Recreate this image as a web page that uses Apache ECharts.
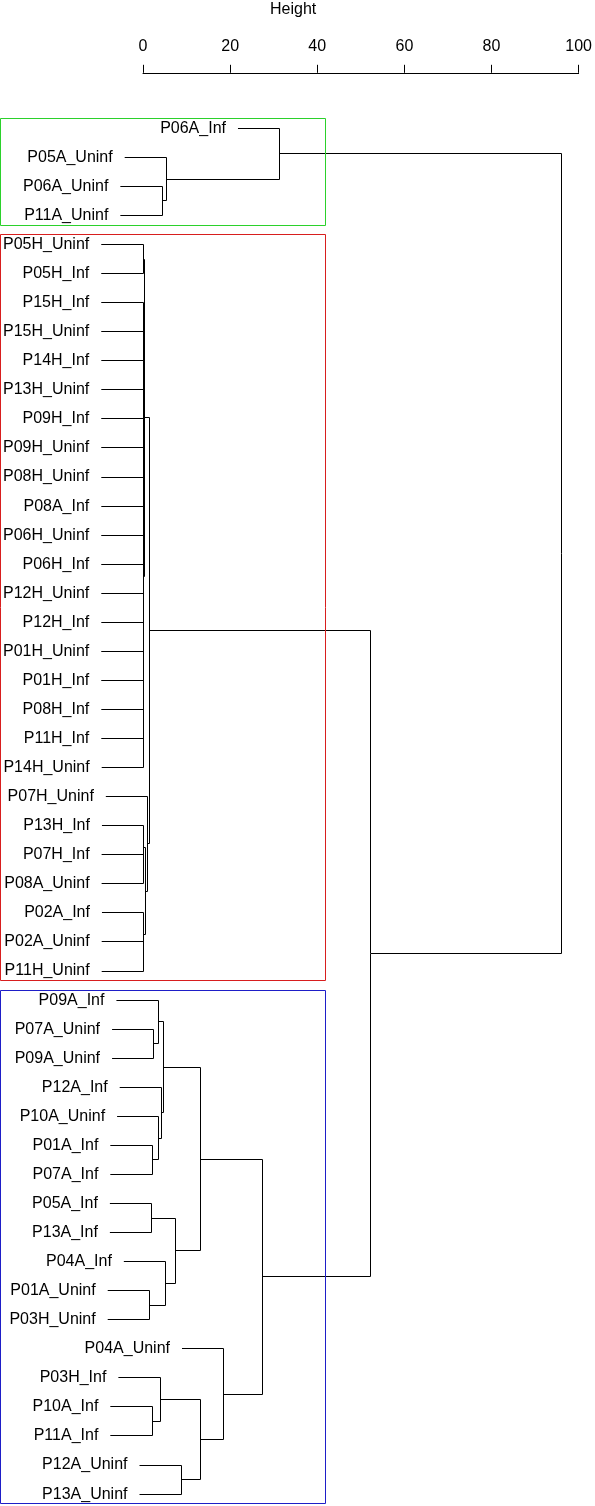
<!DOCTYPE html>
<html>
<head>
<meta charset="utf-8">
<title>Dendrogram</title>
<script src="https://cdn.jsdelivr.net/npm/echarts@6/dist/echarts.min.js"></script>
<style>
  html, body { margin: 0; padding: 0; background: #fff; }
  #chart { width: 595px; height: 1506px; }
</style>
</head>
<body>
<div id="chart"></div>
<script>
// leaf labels, top to bottom
const labels = [
  'P06A_Inf', 'P05A_Uninf', 'P06A_Uninf', 'P11A_Uninf',
  'P05H_Uninf', 'P05H_Inf', 'P15H_Inf', 'P15H_Uninf', 'P14H_Inf', 'P13H_Uninf',
  'P09H_Inf', 'P09H_Uninf', 'P08H_Uninf', 'P08A_Inf', 'P06H_Uninf', 'P06H_Inf',
  'P12H_Uninf', 'P12H_Inf', 'P01H_Uninf', 'P01H_Inf', 'P08H_Inf', 'P11H_Inf',
  'P14H_Uninf', 'P07H_Uninf', 'P13H_Inf', 'P07H_Inf', 'P08A_Uninf', 'P02A_Inf',
  'P02A_Uninf', 'P11H_Uninf',
  'P09A_Inf', 'P07A_Uninf', 'P09A_Uninf', 'P12A_Inf', 'P10A_Uninf', 'P01A_Inf',
  'P07A_Inf', 'P05A_Inf', 'P13A_Inf', 'P04A_Inf', 'P01A_Uninf', 'P03H_Uninf',
  'P04A_Uninf', 'P03H_Inf', 'P10A_Inf', 'P11A_Inf', 'P12A_Uninf', 'P13A_Uninf'
]

// hclust style merges: negative = leaf number, positive = earlier row, then height
const merges = [
  [-5, -6, 0.02], [-7, -8, 0.02], [-9, -10, 0.03], [-11, -12, 0.02],
  [-13, -14, 0.03], [-15, -16, 0.02], [-17, -18, 0.03], [-19, -20, 0.02],
  [-21, -22, 0.03], [4, 5, 0.05], [8, 9, 0.05], [7, 11, 0.06],
  [6, 12, 0.07], [10, 13, 0.08], [3, 14, 0.09], [2, 15, 0.10],
  [16, -23, 0.12], [1, 17, 0.25],
  [-26, -27, 0.10], [-25, 19, 0.18], [-29, -30, 0.12], [-28, 21, 0.18],
  [20, 22, 0.62], [-24, 23, 1.07], [18, 24, 1.45],
  [-3, -4, 4.4], [-2, 26, 5.4], [-1, 27, 31.4],
  [-32, -33, 2.5], [-31, 29, 3.5], [-36, -37, 2.1], [-35, 31, 3.65],
  [-34, 32, 4.25], [30, 33, 4.6], [-38, -39, 2.0], [-41, -42, 1.5],
  [-40, 36, 5.2], [35, 37, 7.45], [34, 38, 13.2], [-45, -46, 2.1],
  [-44, 40, 3.95], [-47, -48, 8.8], [41, 42, 13.25], [-43, 43, 18.55],
  [39, 44, 27.45], [25, 45, 52.3], [28, 46, 96.0]
]

const heightTicks = [0, 20, 40, 60, 80, 100]

// rect.hclust(k = 3)
const clusterFirst = [1, 5, 31]
const clusterLast = [4, 30, 48]
const clusterColors = ['#2bd12b', '#d81e1e', '#1e1ec8']
const cutHeight = 41.85

const font = '"Liberation Sans", Arial, sans-serif'

// node positions (leaf order on the y axis, merge height on the x axis)
const nodeY = []
function posOf(ref) {
  return ref < 0 ? -ref : nodeY[ref - 1]
}
function startOf(ref, h) {
  return ref < 0 ? h - hang : merges[ref - 1][2]
}
merges.forEach(function(m, i) {
  nodeY[i] = (posOf(m[0]) + posOf(m[1])) / 2
})
const hang = 0.1 * Math.max.apply(null, merges.map(function(m) { return m[2] }))

const bracketData = merges.map(function(m) {
  return [m[2], posOf(m[0]), posOf(m[1]), startOf(m[0], m[2]), startOf(m[1], m[2])]
})
const boxData = clusterFirst.map(function(f, i) {
  return [f - 0.34, clusterLast[i] + 0.33, cutHeight]
})

function px(v) {
  return Math.round(v - 0.5) + 0.5
}

function renderBracket(params, api) {
  const m = merges[params.dataIndex]
  const h = api.value(0)
  const a = api.coord([api.value(3), api.value(1)])
  const b = api.coord([api.value(4), api.value(2)])
  const x = px(api.coord([h, 0])[0])
  const ya = px(a[1])
  const yb = px(b[1])
  const stroke = { stroke: '#000', lineWidth: 1 }
  const children = [
    { type: 'line', shape: { x1: a[0], y1: ya, x2: x, y2: ya }, style: stroke },
    { type: 'line', shape: { x1: b[0], y1: yb, x2: x, y2: yb }, style: stroke },
    { type: 'line', shape: { x1: x, y1: ya, x2: x, y2: yb }, style: stroke }
  ]
  ;[[m[0], a], [m[1], b]].forEach(function(c) {
    if (c[0] < 0) {
      children.push({
        type: 'text',
        style: {
          text: labels[-c[0] - 1],
          x: c[1][0] - 12,
          y: c[1][1],
          align: 'right',
          verticalAlign: 'middle',
          fontSize: 16,
          fontFamily: font,
          fill: '#000'
        }
      })
    }
  })
  return { type: 'group', children: children }
}

function renderBox(params, api) {
  const top = api.coord([api.value(2), api.value(0)])
  const bottom = api.coord([api.value(2), api.value(1)])
  const x2 = px(top[0])
  return {
    type: 'rect',
    shape: { x: 0.5, y: px(top[1]), width: x2 - 0.5, height: px(bottom[1]) - px(top[1]) },
    style: { fill: 'none', stroke: clusterColors[params.dataIndex], lineWidth: 1 }
  }
}

const chart = echarts.init(document.getElementById('chart'), null, { renderer: 'canvas' })
chart.setOption({
  animation: false,
  backgroundColor: '#fff',
  title: {
    text: 'Height',
    left: 265,
    top: -3,
    textStyle: { fontSize: 16, fontWeight: 'normal', color: '#000', fontFamily: font }
  },
  grid: { left: 143, right: 12, top: 113.8, bottom: 11.9 },
  xAxis: {
    type: 'value',
    position: 'top',
    min: heightTicks[0],
    max: heightTicks[heightTicks.length - 1],
    interval: heightTicks[1] - heightTicks[0],
    offset: 41,
    axisLine: { lineStyle: { color: '#000', width: 1 } },
    axisTick: { length: 8, lineStyle: { color: '#000', width: 1 } },
    axisLabel: { fontSize: 16, color: '#000', fontFamily: font, margin: 18 },
    splitLine: { show: false }
  },
  yAxis: {
    type: 'value',
    inverse: true,
    min: 0.5,
    max: 48,
    show: false
  },
  series: [
    {
      type: 'custom',
      clip: false,
      renderItem: renderBracket,
      data: bracketData
    },
    {
      type: 'custom',
      clip: false,
      z: 3,
      renderItem: renderBox,
      data: boxData
    }
  ]
})
</script>
</body>
</html>
